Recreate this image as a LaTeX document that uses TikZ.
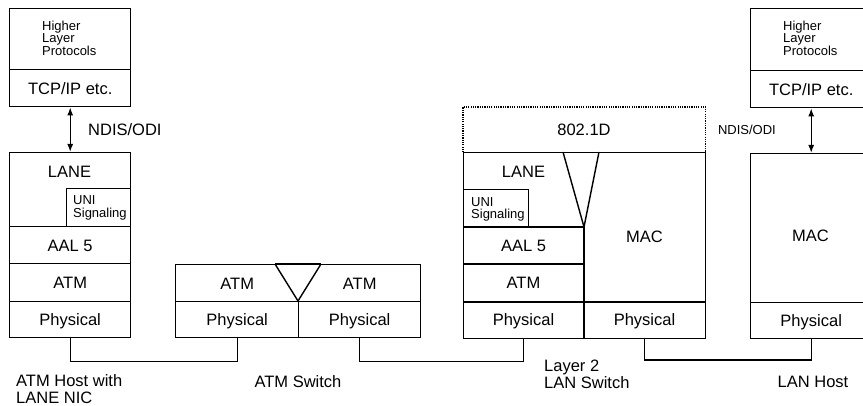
\documentclass[tikz,border=0pt]{standalone}
\usepackage{fontspec}
\setmainfont{Liberation Sans}
\usetikzlibrary{arrows.meta}
\newcommand\bigtxt{\fontsize{16.5}{17}\selectfont}
\newcommand\midtxt{\fontsize{13}{14}\selectfont}
\newcommand\smtxt{\fontsize{13}{12.6}\selectfont}
\begin{document}
\begin{tikzpicture}[x=1pt,y=-1pt,
  ln/.style={line width=1.4pt},
  cell/.style={draw,ln,inner sep=0pt,anchor=north west,font=\bigtxt,text height=11.8pt,text depth=0pt},
  lbl/.style={inner sep=0pt,font=\bigtxt,text height=11.8pt,text depth=0pt},
  small/.style={inner sep=0pt,font=\smtxt,align=left,anchor=north west},
  multi/.style={inner sep=0pt,font=\bigtxt,align=left,anchor=north west},
  dotbox/.style={line width=1.1pt,dash pattern=on 1.2pt off 1.1pt},
  tip/.style={{Latex[length=8pt,width=6pt]}-{Latex[length=8pt,width=6pt]}}
]
\useasboundingbox (0,0) rectangle (863,406);
\clip (0,0) rectangle (863,406);

% ---------------- ATM host (left) ----------------
\node[cell,minimum width=121pt,minimum height=61pt] (hl1) at (9,8) {};
\node[small] (hl1t) at (42,20.5) {Higher\\Layer\\Protocols};
\node[cell,minimum width=121pt,minimum height=37pt] (tcp1) at (9,69) {TCP/IP etc.};
\node[cell,minimum width=121pt,minimum height=74pt] (lane1) at (9,152) {};
\node[lbl] (lane1t) at (69.5,171.5) {LANE};
\node[cell,minimum width=64pt,minimum height=38pt] (uni1) at (66,188) {};
\node[small] (uni1t) at (73,195.5) {UNI\\Signaling};
\node[cell,minimum width=121pt,minimum height=37pt] (aal1) at (9,226) {AAL 5};
\node[cell,minimum width=121pt,minimum height=38pt] (atm1) at (9,263) {ATM};
\node[cell,minimum width=121pt,minimum height=36pt] (phy1) at (9,301) {Physical};
\draw[ln,tip] (tcp1.south) -- (lane1.north);
\node[lbl,anchor=west] (ndis1) at (88,129.5) {NDIS/ODI};

% ---------------- ATM switch ----------------
\node[cell,minimum width=123pt,minimum height=37pt] (atmL) at (175,264) {ATM};
\node[cell,minimum width=122pt,minimum height=37pt] (atmR) at (298,264) {ATM};
\node[cell,minimum width=123pt,minimum height=36pt] (phyL) at (175,301) {Physical};
\node[cell,minimum width=122pt,minimum height=36pt] (phyR) at (298,301) {Physical};
\draw[ln,fill=white] (275,264) -- (298,301) -- (321,264);
\draw[ln] (275,264) -- (321,264);

% ---------------- Layer 2 LAN switch ----------------
\node[inner sep=0pt,anchor=north west,minimum width=242pt,minimum height=45pt] (sw802) at (463,107) {};
\draw[dotbox] (sw802.south west) -- (sw802.north west) -- (sw802.north east) -- (sw802.south east);
\node[lbl] (sw802t) at (584,129.5) {802.1D};
\node[cell,minimum width=242pt,minimum height=186pt] (sw2) at (463,152) {};
\node[cell,minimum width=65pt,minimum height=38pt] (uni2) at (463,189) {};
\node[small] (uni2t) at (471,197) {UNI\\Signaling};
\draw[ln] (463,227) -- (584,227) -- (584,338);
\draw[ln] (563,152) -- (584,227) -- (599,152);
\draw[ln] (463,264) -- (584,264);
\draw[ln] (463,302) -- (705,302);
\node[lbl] (lane2t) at (523.5,172) {LANE};
\node[lbl] (aal2t) at (523.5,245.5) {AAL 5};
\node[lbl] (atm2t) at (523.5,283) {ATM};
\node[lbl] (mac2t) at (644.5,237) {MAC};
\coordinate (phy2a) at (523.5,338);
\coordinate (phy2b) at (644.5,338);
\node[lbl] (phy2at) at (523.5,320) {Physical};
\node[lbl] (phy2bt) at (644.5,320) {Physical};

% ---------------- LAN host (right) ----------------
\node[cell,minimum width=121pt,minimum height=62pt] (hl3) at (750,8) {};
\node[small] (hl3t) at (783,20.5) {Higher\\Layer\\Protocols};
\node[cell,minimum width=121pt,minimum height=37pt] (tcp3) at (750,70) {TCP/IP etc.};
\node[cell,minimum width=121pt,minimum height=149pt] (mac3) at (750,153) {};
\node[lbl] (mac3t) at (810.5,236) {MAC};
\node[cell,minimum width=121pt,minimum height=36pt] (phy3) at (750,302) {Physical};
\draw[ln,tip] (tcp3.south) -- (mac3.north);
\node[inner sep=0pt,font=\midtxt,anchor=east] (ndis3) at (776,130) {NDIS/ODI};

% ---------------- links ----------------
\draw[ln] (phy1.south) -- ++(0,23) -| (phyL.south);
\draw[ln] (phyR.south) -- ++(0,23) -| (phy2a);
\draw[ln] (phy2b) -- ++(0,22) -| (phy3.south);

% ---------------- captions ----------------
\node[multi] (capA) at (16,374) {ATM Host with\\LANE NIC};
\node[lbl] (capB) at (298,382) {ATM Switch};
\node[multi] (capC) at (544,360) {Layer 2\\LAN Switch};
\node[lbl] (capD) at (813,382) {LAN Host};
\end{tikzpicture}
\end{document}
